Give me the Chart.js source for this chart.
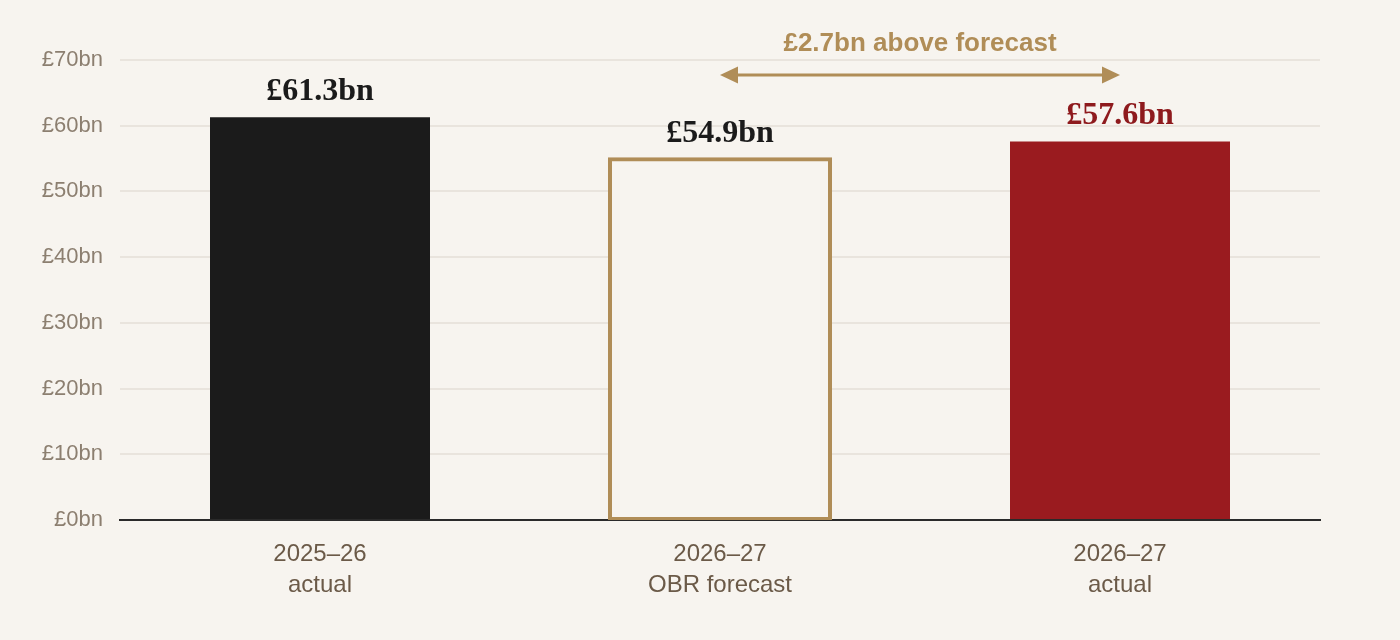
<!DOCTYPE html>
<html>
<head>
<meta charset="utf-8">
<script src="https://cdn.jsdelivr.net/npm/chart.js@4.4.1/dist/chart.umd.min.js"></script>
<style>
  html, body { margin: 0; padding: 0; background: #f7f4ef; }
  #wrap { width: 1400px; height: 640px; }
</style>
</head>
<body>
<div id="wrap"><canvas id="chart" width="1400" height="640"></canvas></div>
<script>
// data
const categories = [["2025–26", "actual"], ["2026–27", "OBR forecast"], ["2026–27", "actual"]];
const values = [61.3, 54.9, 57.6];
const valueLabels = ["£61.3bn", "£54.9bn", "£57.6bn"];
const yTicks = [0, 10, 20, 30, 40, 50, 60, 70];
const gapText = "£2.7bn above forecast";

const bg = "#f7f4ef";
const gold = "#b08d57";
const fills = ["#1b1b1b", bg, "#9a1b1f"];
const borders = ["#1b1b1b", gold, "#9a1b1f"];
const labelColors = ["#1b1b1b", "#1b1b1b", "#8e1a1d"];

// value labels above the bars + the gap arrow between forecast and actual
const overlay = {
  id: "overlay",
  afterDatasetsDraw(chart) {
    const { ctx, scales } = chart;
    const meta = chart.getDatasetMeta(0);
    ctx.save();
    ctx.textAlign = "center";
    ctx.textBaseline = "alphabetic";
    ctx.font = "bold 32px 'Liberation Serif', serif";
    meta.data.forEach((bar, i) => {
      ctx.fillStyle = labelColors[i];
      ctx.fillText(valueLabels[i], bar.x, bar.y - 17);
    });

    // arrow
    const x1 = scales.x.getPixelForValue(1);
    const x2 = scales.x.getPixelForValue(2);
    const y = chart.chartArea.top + 15;
    const head = 18, half = 8.5;
    ctx.strokeStyle = gold;
    ctx.fillStyle = gold;
    ctx.lineWidth = 3;
    ctx.beginPath();
    ctx.moveTo(x1 + head, y);
    ctx.lineTo(x2 - head, y);
    ctx.stroke();
    ctx.beginPath();
    ctx.moveTo(x1, y);
    ctx.lineTo(x1 + head, y - half);
    ctx.lineTo(x1 + head, y + half);
    ctx.closePath();
    ctx.fill();
    ctx.beginPath();
    ctx.moveTo(x2, y);
    ctx.lineTo(x2 - head, y - half);
    ctx.lineTo(x2 - head, y + half);
    ctx.closePath();
    ctx.fill();

    ctx.font = "bold 26px 'Liberation Sans', Arial, sans-serif";
    ctx.textBaseline = "middle";
    ctx.fillText(gapText, (x1 + x2) / 2, 44);
    ctx.restore();
  }
};

new Chart(document.getElementById("chart"), {
  type: "bar",
  data: {
    labels: categories,
    datasets: [{
      data: values,
      backgroundColor: fills,
      borderColor: borders,
      borderWidth: ctx => ctx.dataIndex === 1 ? 4 : 0,
      borderSkipped: false,
      inflateAmount: ctx => ctx.dataIndex === 1 ? 2 : "auto",
      barPercentage: 0.55,
      categoryPercentage: 1
    }]
  },
  options: {
    responsive: false,
    animation: false,
    layout: { padding: { top: 60, right: 80, left: 0, bottom: 0 } },
    plugins: {
      legend: { display: false },
      tooltip: { enabled: false }
    },
    scales: {
      x: {
        grid: { display: false },
        border: { color: "#2a2a2a", width: 2 },
        ticks: {
          color: "#6b5a48",
          font: { family: "'Liberation Sans', Arial, sans-serif", size: 24, lineHeight: 1.3 },
          padding: 11
        },
        afterFit(scale) { scale.height = 120; }
      },
      y: {
        min: 0,
        max: 70,
        afterBuildTicks(scale) { scale.ticks = yTicks.map(v => ({ value: v })); },
        border: { display: false },
        grid: { color: "#e9e4dd", lineWidth: 2, drawTicks: false },
        ticks: {
          color: "#8c7f70",
          font: { family: "'Liberation Sans', Arial, sans-serif", size: 22 },
          padding: 17,
          callback: v => "£" + v + "bn"
        },
        afterFit(scale) { scale.width = 120; }
      }
    }
  },
  plugins: [overlay]
});
</script>
</body>
</html>
